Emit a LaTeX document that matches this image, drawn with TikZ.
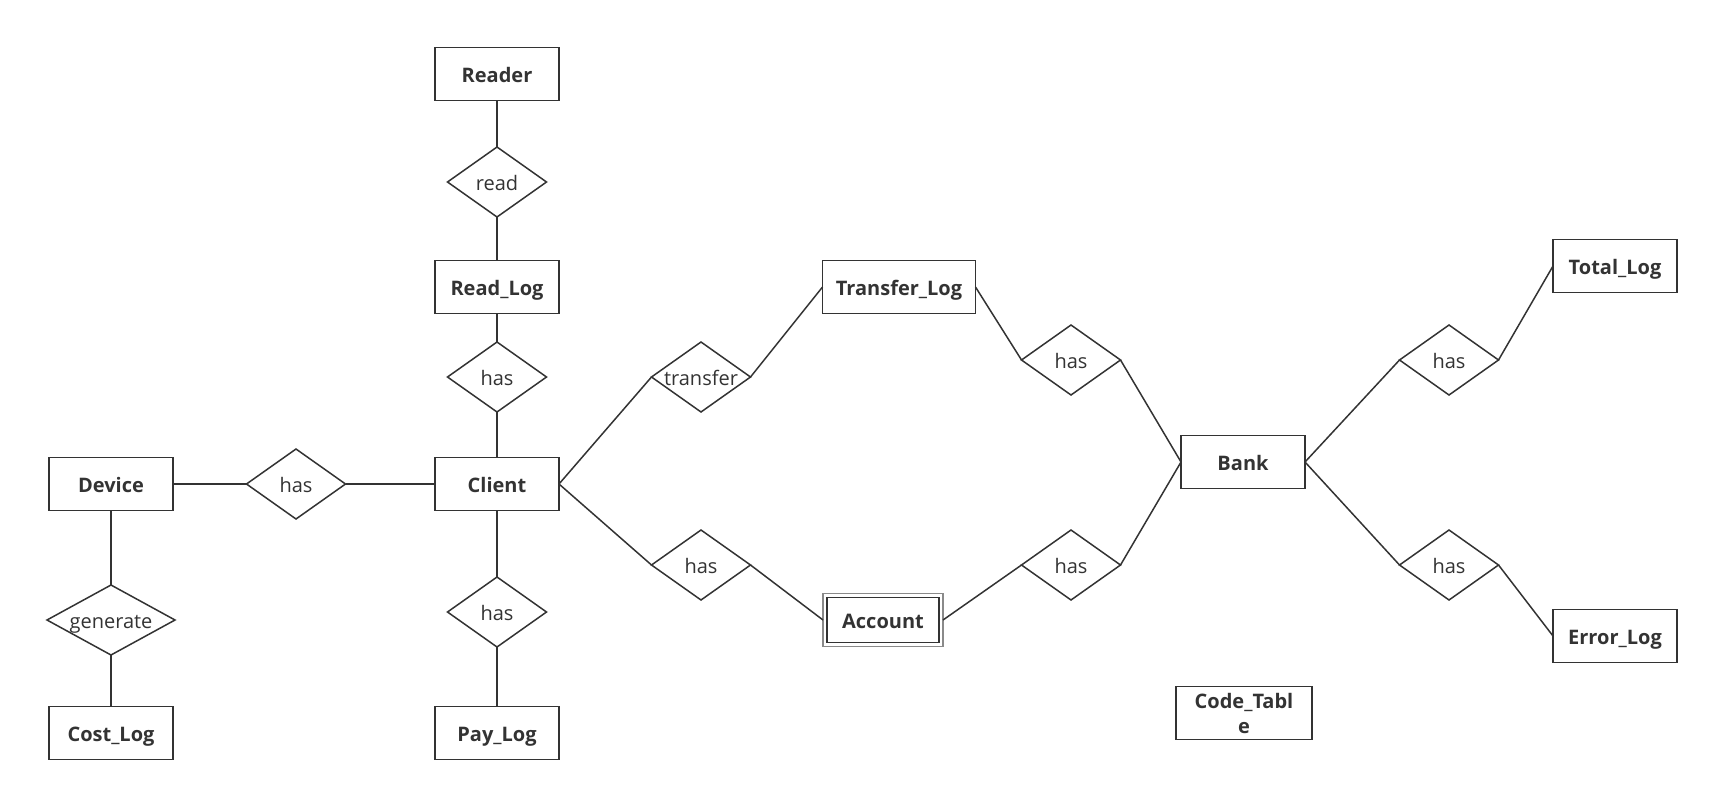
\documentclass[tikz,border=0pt]{standalone}
\usepackage{fontspec}
\setmainfont{Open Sans}
\usepackage{tikz}
\usetikzlibrary{shapes.geometric}

\definecolor{ink}{HTML}{333333}
\definecolor{weakgray}{HTML}{8A8A8A}

\tikzset{
  entity/.style={draw=ink, line width=1.5pt, rectangle, minimum width=124pt, minimum height=53pt,
    inner sep=2pt, outer sep=0pt, text=ink, text height=16pt, text depth=0pt,
    font=\fontsize{20}{25}\selectfont\bfseries},
  rel/.style={draw=ink, line width=1.5pt, diamond, minimum width=99pt, minimum height=70pt,
    inner sep=0pt, outer sep=0pt, text=ink, text height=16pt, text depth=0pt,
    font=\fontsize{20}{24}\selectfont},
  link/.style={draw=ink, line width=1.5pt}
}

\begin{document}
\begin{tikzpicture}[x=1pt, y=-1pt]

    \useasboundingbox (0,0) rectangle (1710,792);

    % Entidades
    \node[entity] (reader) at (497,74) {Reader};
    \node[entity] (readlog) at (497,287) {Read\_Log};
    \node[entity] (client) at (497,484) {Client};
    \node[entity] (paylog) at (497,733) {Pay\_Log};
    \node[entity] (device) at (111,484) {Device};
    \node[entity] (costlog) at (111,733) {Cost\_Log};
    \node[entity, minimum width=153pt] (transferlog) at (899,287) {Transfer\_Log};
    \node[entity, draw=weakgray, minimum width=120pt] (account) at (883,620) {Account};
    \draw[ink, line width=1.5pt] ([shift={(4pt,-4pt)}]account.north west) rectangle ([shift={(-4pt,4pt)}]account.south east);
    \node[entity] (bank) at (1243,462) {Bank};
    \node[entity] (totallog) at (1615,266) {Total\_Log};
    \node[entity] (errorlog) at (1615,636) {Error\_Log};
    \node[entity, text height=, text depth=, minimum width=136pt, align=center, inner sep=1pt] (codetable) at (1244,713) {Code\_Tabl\\e};

    % Relaciones
    \node[rel] (read) at (497,182) {\makebox[0pt]{read}};
    \node[rel] (hasread) at (497,377) {\makebox[0pt]{has}};
    \node[rel] (haspay) at (497,612) {\makebox[0pt]{has}};
    \node[rel] (hasdevice) at (296,484) {\makebox[0pt]{has}};
    \node[rel, minimum width=128pt] (generate) at (111,620) {\makebox[0pt]{generate}};
    \node[rel] (transfer) at (701,377) {\makebox[0pt]{transfer}};
    \node[rel] (hasaccount) at (701,565) {\makebox[0pt]{has}};
    \node[rel] (hastransfer) at (1071,360) {\makebox[0pt]{has}};
    \node[rel] (hasbank) at (1071,565) {\makebox[0pt]{has}};
    \node[rel] (hastotal) at (1449,360) {\makebox[0pt]{has}};
    \node[rel] (haserror) at (1449,565) {\makebox[0pt]{has}};

    % Conexiones
    \draw[link] (reader.south) -- (read.north);
    \draw[link] (read.south) -- (readlog.north);
    \draw[link] (readlog.south) -- (hasread.north);
    \draw[link] (hasread.south) -- (client.north);
    \draw[link] (client.south) -- (haspay.north);
    \draw[link] (haspay.south) -- (paylog.north);
    \draw[link] (device.east) -- (hasdevice.west);
    \draw[link] (hasdevice.east) -- (client.west);
    \draw[link] (device.south) -- (generate.north);
    \draw[link] (generate.south) -- (costlog.north);
    \draw[link] (client.east) -- (transfer.west);
    \draw[link] (transfer.east) -- (transferlog.west);
    \draw[link] (client.east) -- (hasaccount.west);
    \draw[link] (hasaccount.east) -- (account.west);
    \draw[link] (transferlog.east) -- (hastransfer.west);
    \draw[link] (hastransfer.east) -- (bank.west);
    \draw[link] (account.east) -- (hasbank.west);
    \draw[link] (hasbank.east) -- (bank.west);
    \draw[link] (bank.east) -- (hastotal.west);
    \draw[link] (hastotal.east) -- (totallog.west);
    \draw[link] (bank.east) -- (haserror.west);
    \draw[link] (haserror.east) -- (errorlog.west);

\end{tikzpicture}
\end{document}
